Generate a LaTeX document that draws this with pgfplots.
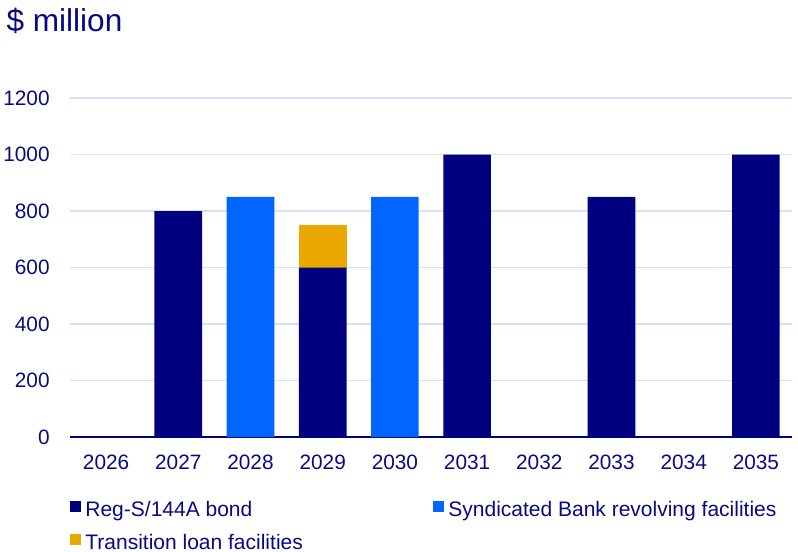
\documentclass[border=0pt]{standalone}
\usepackage{fontspec}
\setmainfont{Liberation Sans}
\usepackage{pgfplots}
\pgfplotsset{compat=1.18}
\definecolor{navy}{HTML}{000080}
\definecolor{brightblue}{HTML}{0066FF}
\definecolor{orangey}{HTML}{EBA800}
\definecolor{gridblue}{HTML}{D6E3F7}
\definecolor{txt}{HTML}{0A0A80}
\begin{document}
\begin{tikzpicture}
\begin{axis}[
  scale only axis,
  width=361pt, height=169.5pt,
  ybar stacked, bar width=0.66,
  xmin=-0.5, xmax=9.5, ymin=0, ymax=1200,
  xtick={0,...,9},
  xticklabels={2026,2027,2028,2029,2030,2031,2032,2033,2034,2035},
  ytick={0,200,...,1200},
  axis x line*=bottom, axis y line*=left,
  x axis line style={navy, line width=0.8pt, -},
  y axis line style={draw=none},
  major tick length=0pt,
  ymajorgrids, grid style={gridblue, line width=0.6pt},
  axis on top=false,
  /pgf/number format/assume math mode=true,
  /pgf/number format/1000 sep={},
  tick label style={font=\fontsize{10.4}{12}\selectfont, text=txt, inner sep=0pt},
  xticklabel style={yshift=-9pt},
  yticklabel style={xshift=-10pt},
  clip=false,
  legend columns=2,
  legend style={draw=none, inner sep=0pt, at={(rel axis cs:0,-0.1860)}, anchor=north west,
    font=\fontsize{10.5}{12}\selectfont, text=txt,
    nodes={inner sep=0pt, text height=8pt, text depth=2.5pt},
    row sep=5.8pt,
    /tikz/every odd column/.append style={column sep=2pt}},
  legend cell align=left,
  legend image code/.code={\fill[#1] (0pt,-0.5pt) rectangle (5.5pt,5pt);},
]
\addplot[fill=navy, draw=none] coordinates {(0,0) (1,800) (2,0) (3,600) (4,0) (5,1000) (6,0) (7,850) (8,0) (9,1000)};
\addplot[fill=brightblue, draw=none] coordinates {(0,0) (1,0) (2,850) (3,0) (4,850) (5,0) (6,0) (7,0) (8,0) (9,0)};
\addplot[fill=orangey, draw=none] coordinates {(0,0) (1,0) (2,0) (3,150) (4,0) (5,0) (6,0) (7,0) (8,0) (9,0)};
\legend{\makebox[174pt][l]{Reg-S/144A bond}, Syndicated Bank revolving facilities, Transition loan facilities}
\node[anchor=base west, inner sep=0pt, font=\fontsize{15.8}{19}\selectfont, text=txt] at (rel axis cs:-0.0885,1.1976) {\$ million};
\coordinate (bbsw) at (rel axis cs:-0.09695,-0.33628);
\coordinate (bbne) at (rel axis cs:1.00831,1.28909);
\end{axis}
\pgfresetboundingbox
\path (bbsw) rectangle (bbne);
\end{tikzpicture}
\end{document}
